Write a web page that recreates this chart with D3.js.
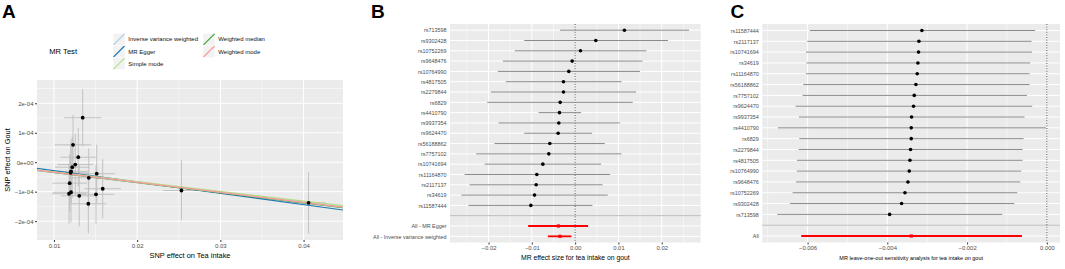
<!DOCTYPE html>
<html>
<head>
<meta charset="utf-8">
<script src="https://cdn.jsdelivr.net/npm/d3@7"></script>
<style>
  body { margin: 0; background: #fff; }
  svg { display: block; font-family: "Liberation Sans", Arial, sans-serif; }
</style>
</head>
<body>
<div id="chart"></div>
<script>
// ---- Panel A: scatter of SNP effects ----
const snpExposure = [0.01345, 0.01229, 0.01292, 0.01256, 0.01220, 0.01205, 0.01201, 0.01514, 0.01418,
  0.01189, 0.01586, 0.01205, 0.01181, 0.01505, 0.01304, 0.01413, 0.02532, 0.04060];
const snpOutcome = [1.51e-4, 0.59e-4, 0.17e-4, -0.08e-4, -0.17e-4, -0.31e-4, -0.36e-4, -0.39e-4, -0.53e-4,
  -0.71e-4, -0.90e-4, -1.02e-4, -1.07e-4, -1.09e-4, -1.14e-4, -1.41e-4, -0.96e-4, -1.38e-4];
const exposureSE = [0.00115, 0.00112, 0.00108, 0.00110, 0.00105, 0.00108, 0.00104, 0.00112, 0.00110,
  0.00106, 0.00112, 0.00110, 0.00104, 0.00113, 0.00112, 0.00110, 0.00113, 0.00105];
const outcomeSE = [5.0e-5, 5.2e-5, 5.1e-5, 5.4e-5, 5.3e-5, 5.6e-5, 5.0e-5, 5.0e-5, 5.1e-5,
  5.0e-5, 5.1e-5, 5.2e-5, 5.2e-5, 5.1e-5, 5.3e-5, 5.1e-5, 5.2e-5, 5.3e-5];

const methods = ["MR Egger", "Weighted median", "Inverse variance weighted", "Simple mode", "Weighted mode"];
const methodSlope = [-0.00385, -0.00345, -0.0034, -0.0033, -0.0034];
const methodIntercept = [1.0e-5, 0, 0, 0, 0];
const legendOrder = ["Inverse variance weighted", "MR Egger", "Simple mode", "Weighted median", "Weighted mode"];
const methodColors = ["#a6cee3", "#1f78b4", "#b2df8a", "#33a02c", "#fb9a99"];

const aXTicks = [0.01, 0.02, 0.03, 0.04];
const aXMinor = [0.015, 0.025, 0.035];
const aYTicks = [-2e-4, -1e-4, 0, 1e-4, 2e-4];
const aYTickLabels = ["\u22122e-04", "\u22121e-04", "0e+00", "1e-04", "2e-04"];
const aYMinor = [-2.5e-4, -1.5e-4, -0.5e-4, 0.5e-4, 1.5e-4, 2.5e-4];

// ---- Panel B: single SNP forest plot ----
const snpB = ["rs713598", "rs9302428", "rs10752269", "rs9648476", "rs10764990", "rs4817505", "rs2279844",
  "rs6829", "rs4410790", "rs9937354", "rs9624470", "rs56188862", "rs7757102", "rs10741694", "rs11164870",
  "rs2117137", "rs34619", "rs11587444"];
const bEst = [0.01138, 0.00477, 0.00123, -0.00069, -0.00146, -0.00269, -0.00269, -0.00346, -0.00362,
  -0.00377, -0.00392, -0.00585, -0.00608, -0.00746, -0.00885, -0.00900, -0.00938, -0.01023];
const bLow = [-0.00346, -0.01177, -0.01392, -0.01669, -0.01785, -0.01600, -0.01946, -0.02030, -0.00846,
  -0.01769, -0.01177, -0.01862, -0.02285, -0.02092, -0.02554, -0.02438, -0.02623, -0.02462];
const bHigh = [0.02630, 0.02146, 0.01646, 0.01554, 0.01500, 0.01069, 0.01408, 0.01331, 0.00138,
  0.01031, 0.00392, 0.00685, 0.01069, 0.00600, 0.00808, 0.00631, 0.00754, 0.00400];
const bAllLabels = ["All - MR Egger", "All - Inverse variance weighted"];
const bAllEst = [-0.00385, -0.0035];
const bAllLow = [-0.01085, -0.00631];
const bAllHigh = [0.00300, -0.00085];
const bXTicks = [-0.02, -0.01, 0, 0.01, 0.02];
const bXTickLabels = ["\u22120.02", "\u22120.01", "0.00", "0.01", "0.02"];
const bXMinor = [-0.025, -0.015, -0.005, 0.005, 0.015, 0.025];

// ---- Panel C: leave-one-out ----
const snpC = ["rs11587444", "rs2117137", "rs10741694", "rs34619", "rs11164870", "rs56188862", "rs7757102",
  "rs9624470", "rs9937354", "rs4410790", "rs6829", "rs2279844", "rs4817505", "rs10764990", "rs9648476",
  "rs10752269", "rs9302428", "rs713598"];
const cEst = [-0.003133, -0.003208, -0.003217, -0.003233, -0.00325, -0.003283, -0.003325, -0.003342,
  -0.003392, -0.0034, -0.0034, -0.003417, -0.003433, -0.00345, -0.003483, -0.003558, -0.003642, -0.003942];
const cLow = [-0.005942, -0.006008, -0.006042, -0.006025, -0.006042, -0.006108, -0.006125, -0.0063,
  -0.006217, -0.006742, -0.006208, -0.006225, -0.006267, -0.006267, -0.006292, -0.006375, -0.006442, -0.006758];
const cHigh = [-0.000292, -0.000383, -0.000375, -0.000417, -0.000433, -0.000433, -0.0005, -0.000367,
  -0.000558, -0.000025, -0.000583, -0.000608, -0.000608, -0.000642, -0.000667, -0.000742, -0.000817, -0.001117];
const cAllLabels = ["All"];
const cAllEst = [-0.0034];
const cAllLow = [-0.006158];
const cAllHigh = [-0.000625];
const cXTicks = [-0.006, -0.004, -0.002, 0];
const cXTickLabels = ["\u22120.006", "\u22120.004", "\u22120.002", "0.000"];
const cXMinor = [-0.007, -0.005, -0.003, -0.001];

const W = 1065, H = 269;
const svg = d3.select("#chart").append("svg").attr("width", W).attr("height", H);
svg.append("rect").attr("width", W).attr("height", H).attr("fill", "#fff");

const PANEL_BG = "#ebebeb";

function panelBg(g, x, y) {
  const [x0, x1] = x.range(), [y0, y1] = [d3.min(y.range()), d3.max(y.range())];
  g.append("rect").attr("x", x0).attr("y", y0).attr("width", x1 - x0).attr("height", y1 - y0).attr("fill", PANEL_BG);
}
function vGrid(g, x, y, vals, w) {
  const [y0, y1] = [d3.min(y.range()), d3.max(y.range())];
  g.selectAll(null).data(vals).join("line")
    .attr("x1", d => x(d)).attr("x2", d => x(d)).attr("y1", y0).attr("y2", y1)
    .attr("stroke", "#fff").attr("stroke-width", w);
}
function hGrid(g, x, yPos, w) {
  const [x0, x1] = x.range();
  g.selectAll(null).data(yPos).join("line")
    .attr("x1", x0).attr("x2", x1).attr("y1", d => d).attr("y2", d => d)
    .attr("stroke", "#fff").attr("stroke-width", w);
}
function styleAxis(ax, size) {
  ax.select(".domain").remove();
  ax.selectAll(".tick line").attr("stroke", "#333");
  ax.selectAll(".tick text").attr("fill", "#4d4d4d").style("font-size", size + "px");
}
function letter(txt, x) {
  svg.append("text").attr("x", x).attr("y", 17.5).text(txt)
    .style("font-size", "19px").style("font-weight", "bold");
}

// ================= Panel A =================
const gA = svg.append("g");
const xA = d3.scaleLinear().domain([0.00796, 0.04474]).range([37, 343]);
const yA = d3.scaleLinear().domain([-2.64e-4, 2.79e-4]).range([240, 80]);
panelBg(gA, xA, yA);
vGrid(gA, xA, yA, aXMinor, 0.5);
hGrid(gA, xA, aYMinor.map(yA), 0.5);
vGrid(gA, xA, yA, aXTicks, 1);
hGrid(gA, xA, aYTicks.map(yA), 1);

gA.append("clipPath").attr("id", "clipA").append("rect")
  .attr("x", 37).attr("y", 80).attr("width", 306).attr("height", 160);
const plotA = gA.append("g").attr("clip-path", "url(#clipA)");

const ptsA = snpExposure.map((bx, i) => ({ bx, by: snpOutcome[i], sx: exposureSE[i], sy: outcomeSE[i] }));
plotA.selectAll(null).data(ptsA).join("line")
  .attr("x1", d => xA(d.bx)).attr("x2", d => xA(d.bx))
  .attr("y1", d => yA(d.by - 1.96 * d.sy)).attr("y2", d => yA(d.by + 1.96 * d.sy))
  .attr("stroke", "#bdbdbd").attr("stroke-width", 0.9);
plotA.selectAll(null).data(ptsA).join("line")
  .attr("x1", d => xA(d.bx - 1.96 * d.sx)).attr("x2", d => xA(d.bx + 1.96 * d.sx))
  .attr("y1", d => yA(d.by)).attr("y2", d => yA(d.by))
  .attr("stroke", "#bdbdbd").attr("stroke-width", 0.9);

const colorOf = d3.scaleOrdinal().domain(legendOrder).range(methodColors);
const [dx0, dx1] = xA.domain();
plotA.selectAll(null).data(methods.map((m, i) => ({ m, b: methodSlope[i], a: methodIntercept[i] })))
  .join("line")
  .attr("x1", xA(dx0)).attr("x2", xA(dx1))
  .attr("y1", d => yA(d.a + d.b * dx0)).attr("y2", d => yA(d.a + d.b * dx1))
  .attr("stroke", d => colorOf(d.m)).attr("stroke-width", 1.2);

plotA.selectAll(null).data(ptsA).join("circle")
  .attr("cx", d => xA(d.bx)).attr("cy", d => yA(d.by)).attr("r", 1.9).attr("fill", "#000");

const axAx = gA.append("g").attr("transform", "translate(0,240)")
  .call(d3.axisBottom(xA).tickValues(aXTicks).tickFormat(d3.format(".2f")).tickSize(2).tickPadding(1.5));
styleAxis(axAx, 6);
const axAy = gA.append("g").attr("transform", "translate(37,0)")
  .call(d3.axisLeft(yA).tickValues(aYTicks).tickFormat((d, i) => aYTickLabels[i]).tickSize(2).tickPadding(1.5));
styleAxis(axAy, 6);

gA.append("text").attr("x", 190).attr("y", 257.5).attr("text-anchor", "middle")
  .style("font-size", "7.4px").text("SNP effect on Tea intake");
gA.append("text").attr("transform", "translate(9.5,160) rotate(-90)").attr("text-anchor", "middle")
  .style("font-size", "7.4px").text("SNP effect on Gout");

// legend
const legA = gA.append("g");
legA.append("text").attr("x", 49.3).attr("y", 54.3).style("font-size", "7.6px").text("MR Test");
const legItems = legendOrder.map((m, i) => ({ m, col: i < 3 ? 0 : 1, row: i < 3 ? i : i - 3 }));
const leg = legA.selectAll(null).data(legItems).join("g")
  .attr("transform", d => `translate(${d.col === 0 ? 113 : 203},${33.3 + d.row * 12.2})`);
leg.append("rect").attr("width", 12).attr("height", 12).attr("fill", "#f2f2f2").attr("stroke", "#fff").attr("stroke-width", 0.5);
leg.append("line").attr("x1", 0.5).attr("y1", 11.5).attr("x2", 11.5).attr("y2", 0.5)
  .attr("stroke", d => colorOf(d.m)).attr("stroke-width", 1.1);
leg.append("text").attr("x", 15.3).attr("y", 8.2).style("font-size", "6px").attr("fill", "#111").text(d => d.m);

letter("A", 2);

// ================= forest panels =================
function forest(opt) {
  const g = svg.append("g");
  const cats = opt.snps.concat([""], opt.allLabels);
  const x = d3.scaleLinear().domain(opt.domain).range(opt.xRange);
  const y = d3.scalePoint().domain(cats).range([24, 242.5]).padding(0.6);
  panelBg(g, x, y);
  vGrid(g, x, y, opt.minor, 0.5);
  vGrid(g, x, y, opt.ticks, 1);
  hGrid(g, x, cats.map(c => y(c)), 1);

  // separator between single SNPs and summary rows
  g.append("line").attr("x1", opt.xRange[0]).attr("x2", opt.xRange[1])
    .attr("y1", y("")).attr("y2", y("")).attr("stroke", "#b8b8b8").attr("stroke-width", 1);
  g.append("line").attr("x1", x(0)).attr("x2", x(0)).attr("y1", 24).attr("y2", 242.5)
    .attr("stroke", "#222").attr("stroke-width", 0.8).attr("stroke-dasharray", "1,1.6");

  const rows = opt.snps.map((s, i) => ({ s, e: opt.est[i], lo: opt.low[i], hi: opt.high[i] }));
  const allRows = opt.allLabels.map((s, i) => ({ s, e: opt.allEst[i], lo: opt.allLow[i], hi: opt.allHigh[i] }));

  g.selectAll(null).data(rows).join("line")
    .attr("x1", d => x(d.lo)).attr("x2", d => x(d.hi)).attr("y1", d => y(d.s)).attr("y2", d => y(d.s))
    .attr("stroke", "#8a8a8a").attr("stroke-width", 1);
  g.selectAll(null).data(rows).join("circle")
    .attr("cx", d => x(d.e)).attr("cy", d => y(d.s)).attr("r", 1.8).attr("fill", "#000");
  g.selectAll(null).data(allRows).join("line")
    .attr("x1", d => x(d.lo)).attr("x2", d => x(d.hi)).attr("y1", d => y(d.s)).attr("y2", d => y(d.s))
    .attr("stroke", "#ff0000").attr("stroke-width", 1.8);
  g.selectAll(null).data(allRows).join("rect")
    .attr("x", d => x(d.e) - 1.6).attr("y", d => y(d.s) - 1.6).attr("width", 3.2).attr("height", 3.2)
    .attr("fill", "#ff0000");

  const ax = g.append("g").attr("transform", "translate(0,242.5)")
    .call(d3.axisBottom(x).tickValues(opt.ticks).tickFormat((d, i) => opt.tickLabels[i]).tickSize(2).tickPadding(1.5));
  styleAxis(ax, opt.tickFont);
  const ay = g.append("g").attr("transform", `translate(${opt.xRange[0]},0)`)
    .call(d3.axisLeft(y).tickValues(cats.filter(c => c !== "")).tickSize(0).tickPadding(3.5));
  styleAxis(ay, 5.4);
  g.append("text").attr("x", (opt.xRange[0] + opt.xRange[1]) / 2).attr("y", 260)
    .attr("text-anchor", "middle").style("font-size", opt.titleFont + "px").text(opt.title);
}

forest({
  snps: snpB, est: bEst, low: bLow, high: bHigh,
  allLabels: bAllLabels, allEst: bAllEst, allLow: bAllLow, allHigh: bAllHigh,
  domain: [-0.0289, 0.0290], xRange: [450, 700.7],
  ticks: bXTicks, tickLabels: bXTickLabels, minor: bXMinor, tickFont: 5.9,
  title: "MR effect size for tea intake on gout", titleFont: 6.8
});
letter("B", 371);

forest({
  snps: snpC, est: cEst, low: cLow, high: cHigh,
  allLabels: cAllLabels, allEst: cAllEst, allLow: cAllLow, allHigh: cAllHigh,
  domain: [-0.007135, 0.00033], xRange: [762.3, 1060],
  ticks: cXTicks, tickLabels: cXTickLabels, minor: cXMinor, tickFont: 5.9,
  title: "MR leave-one-out sensitivity analysis for tea intake on gout", titleFont: 5.5
});
letter("C", 730.5);
</script>
</body>
</html>
